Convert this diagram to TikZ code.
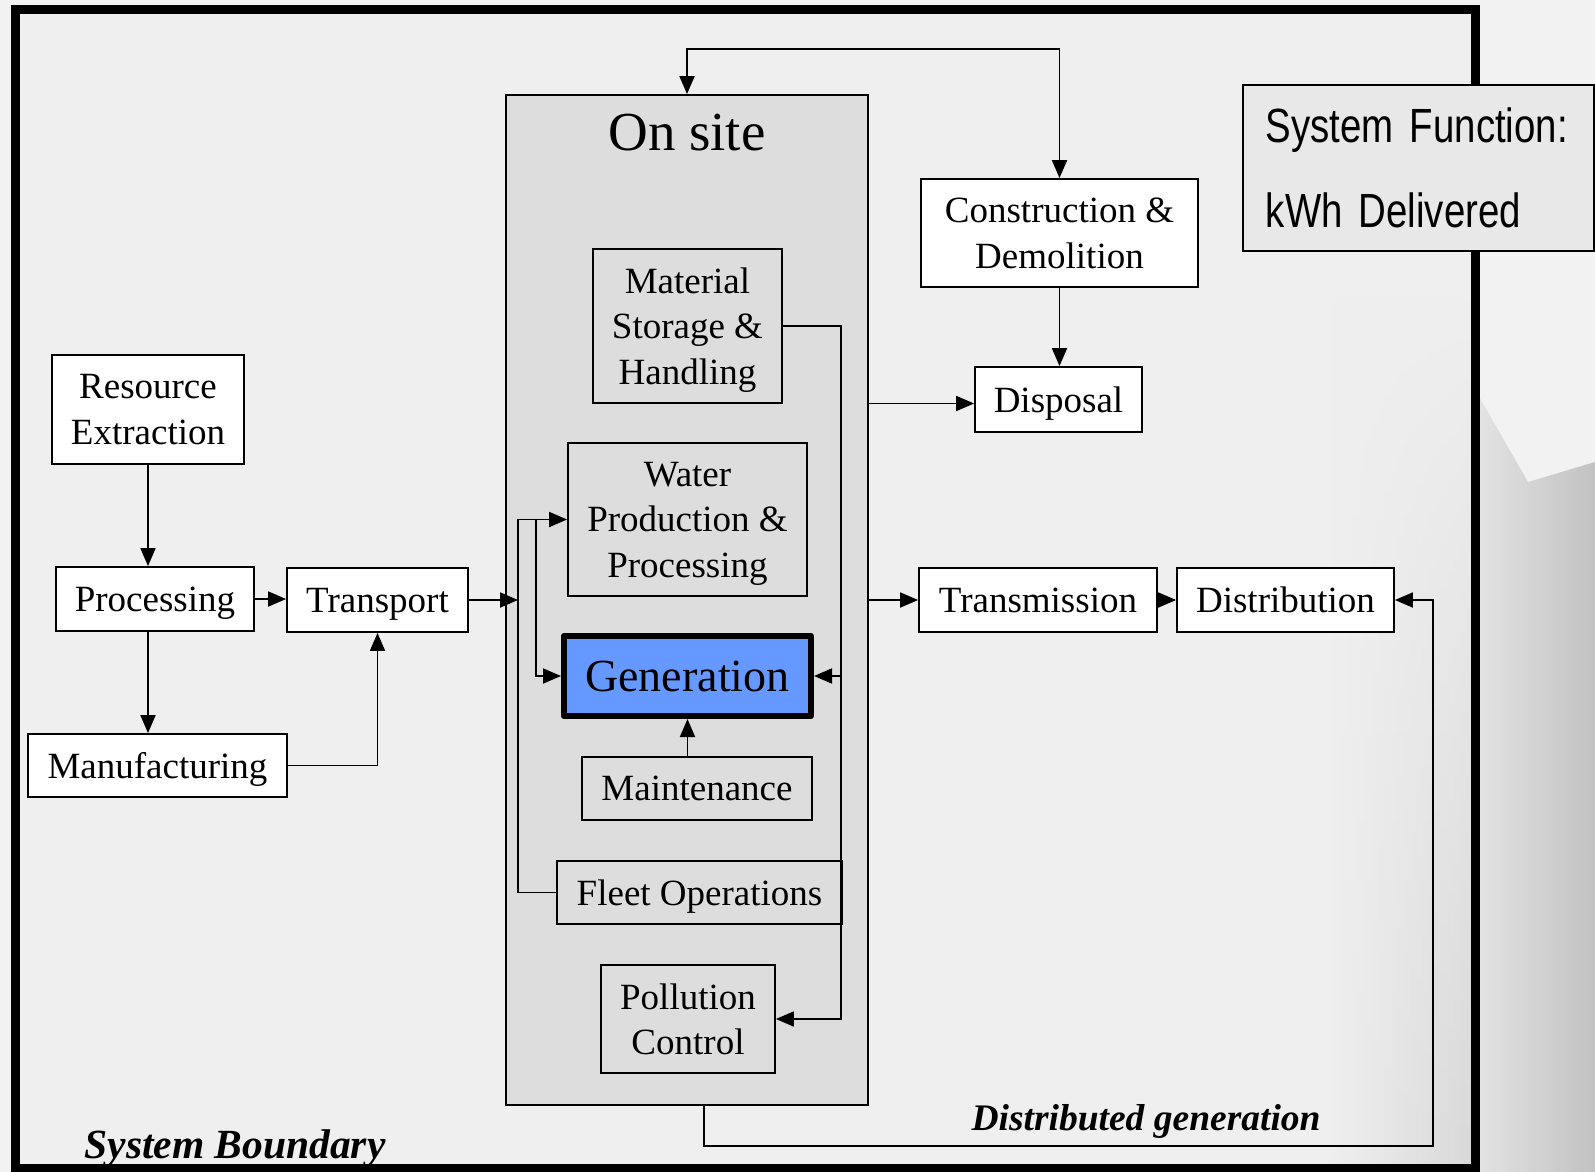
\documentclass[tikz,border=0pt]{standalone}
\usepackage{fontspec}
\setmainfont{Liberation Serif}
\newfontfamily\narrowsf{Liberation Sans}[FakeStretch=0.8]
\usetikzlibrary{arrows.meta,fadings}
\definecolor{genblue}{RGB}{102,153,255}
\definecolor{sitegray}{RGB}{221,221,221}
\definecolor{bggray}{RGB}{239,239,239}
\definecolor{fungray}{RGB}{232,232,232}

\begin{document}
\begin{tikzpicture}[x=1pt,y=-1pt,
	box/.style={draw,line width=1.8pt,fill=white,align=center,inner sep=0pt,text depth=0pt,
		font=\fontsize{37}{45.5}\selectfont},
	inbox/.style={box,fill=sitegray},
	arr/.style={line width=1.8pt,-{Triangle[length=18pt,width=15pt]}},
	dblarr/.style={line width=1.8pt,{Triangle[length=18pt,width=15pt]}-{Triangle[length=18pt,width=15pt]}},
	tag/.style={anchor=base west,font=\fontsize{41.5}{42}\selectfont\bfseries\itshape}
	]
	\useasboundingbox (0,0) rectangle (1595,1172);
	
	%BACKGROUND
	\fill[white!95!black] (0,0) rectangle (1595,1172);
	\fill[bggray] (15,10) rectangle (1475,1168);
	\shade[left color=bggray,right color=gray!30,path fading=north] (1330,300) rectangle (1471,1164);
	\shade[left color=gray!22,right color=gray!48] (1478,395) -- (1528,482) -- (1595,462) -- (1595,1172) -- (1478,1172) -- cycle;
	\draw[line width=9pt] (15,10) rectangle (1475,1168);
	
	%SYSTEM FUNCTION
	\node[draw,fill=fungray,line width=1.8pt,anchor=west,text width=305pt,inner xsep=23pt,inner ysep=0pt,
		minimum height=166pt,align=left,font=\narrowsf\fontsize{48}{85}\selectfont] (func) at (1242,168)
		{\mbox{System Function:}\\\mbox{kWh Delivered}};
	
	%UPSTREAM
	\node[box,minimum width=192pt,minimum height=109pt] (res) at (148,409.5) {Resource\\Extraction};
	\node[box,minimum width=198pt,minimum height=64pt] (proc) at (155,599) {Processing};
	\node[box,minimum width=181pt,minimum height=64pt] (trans) at (377.5,600) {Transport};
	\node[box,minimum width=259pt,minimum height=63pt] (manu) at (157.5,765.5) {Manufacturing};
	
	%ON SITE
	\node[draw,line width=1.8pt,fill=sitegray,minimum width=362pt,minimum height=1010pt] (onsite) at (687,600) {};
	\node[anchor=base,font=\fontsize{55}{60}\selectfont] (title) at (687,150) {On site};
	\node[inbox,minimum width=189pt,minimum height=154pt] (mat) at (687.5,326) {Material\\Storage \&\\Handling};
	\node[inbox,minimum width=239pt,minimum height=153pt] (water) at (687.5,519.5) {Water\\Production \&\\Processing};
	\node[box,fill=genblue,line width=6pt,line join=round,minimum width=247pt,minimum height=80pt,
		font=\fontsize{46}{50}\selectfont] (gen) at (687.5,676) {Generation};
	\node[inbox,minimum width=230pt,minimum height=63pt] (maint) at (697,788.5) {Maintenance};
	\node[inbox,minimum width=285pt,minimum height=63pt] (fleet) at (699.5,892.5) {Fleet Operations};
	\node[inbox,minimum width=174pt,minimum height=108pt] (pol) at (688,1019) {Pollution\\Control};
	
	%DOWNSTREAM
	\node[box,minimum width=277pt,minimum height=108pt] (con) at (1059.5,233) {Construction \&\\Demolition};
	\node[box,minimum width=167pt,minimum height=65pt] (disp) at (1058.5,399.5) {Disposal};
	\node[box,minimum width=238pt,minimum height=64pt] (trm) at (1038,600) {Transmission};
	\node[box,minimum width=217pt,minimum height=64pt] (dist) at (1285.5,600) {Distribution};
	
	%LABELS
	\node[tag] (sysbound) at (81,1158) {System Boundary};
	\node[tag,font=\fontsize{37.5}{40}\selectfont\bfseries\itshape] (distgen) at (968,1130) {Distributed generation};
	
	%CONNECTORS
	\coordinate (busL) at (518,600);
	\coordinate (busM) at (536,520);
	\coordinate (busR) at (841,600);
	\coordinate (topbend) at (687,49);
	\coordinate (dgcorner) at (1433,1146);
	
	\draw[arr] (res.south) -- (res.south |- proc.north);
	\draw[arr] (res.south |- proc.south) -- (res.south |- manu.north);
	\draw[arr] (proc.east) -- (proc.east -| trans.west);
	\draw[arr] (manu.east) -| (trans.south);
	\draw[arr] (trans.east) -- (busL);
	%
	\draw[arr] (fleet.west) -| (busL |- water.west) -- (water.west);
	\draw[arr] (busM |- water.west) |- (gen.west);
	\draw[arr] (mat.east) -| (busR |- pol.east) -- (pol.east);
	\draw[arr] (busR |- gen.east) -- (gen.east);
	\draw[arr] (maint.north -| gen.south) -- (gen.south);
	%
	\draw[dblarr] (onsite.north) -- (topbend) -| (con.north);
	\draw[arr] (con.south) -- (con.south |- disp.north);
	\draw[arr] (onsite.east |- disp.west) ++(0,4) -- ([yshift=-4pt]disp.west);
	\draw[arr] (onsite.east |- trm.west) -- (trm.west);
	\draw[arr] (trm.east) -- (dist.west);
	\draw[arr] ([xshift=17pt]onsite.south) |- (dgcorner) |- (dist.east);
\end{tikzpicture}
\end{document}
